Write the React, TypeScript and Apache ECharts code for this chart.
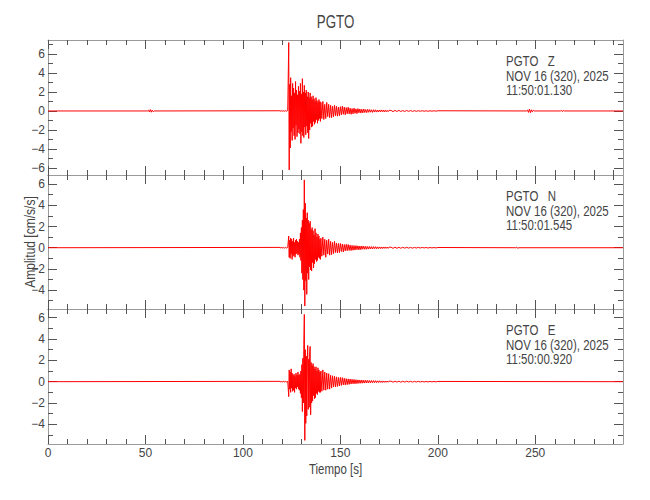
import React, { useEffect, useRef } from "react";
import * as echarts from "echarts";

// ---------- data ----------
const STATION = "PGTO";
const COMPONENTS = ["Z", "N", "E"];
const DATE_LINE = "NOV 16 (320), 2025";
const START_TIMES = ["11:50:01.130", "11:50:01.545", "11:50:00.920"];
const TITLE = "PGTO";
const X_NAME = "Tiempo [s]";
const Y_NAME = "Amplitud [cm/s/s]";

const X_MIN = 0;
const X_MAX = 295;
const X_MAJOR = [0, 50, 100, 150, 200, 250];
const X_MINOR = [
  10, 20, 30, 40, 60, 70, 80, 90, 110, 120, 130, 140, 160, 170, 180, 190,
  210, 220, 230, 240, 260, 270, 280, 290,
];

const Y_RANGES = [
  [-6.74, 7.47],
  [-5.78, 6.86],
  [-5.84, 6.81],
];
const Y_MAJOR = [
  [-6, -4, -2, 0, 2, 4, 6],
  [-4, -2, 0, 2, 4, 6],
  [-4, -2, 0, 2, 4, 6],
];
const Y_MINOR = [
  [-5, -3, -1, 1, 3, 5, 7],
  [-5, -3, -1, 1, 3, 5],
  [-5, -3, -1, 1, 3, 5],
];

// pre-event samples (start 119 s, every 0.5 s)
const PRE_START = 119;
const PRE_STEP = 0.5;
const Z_PRE = [0.02, -0.03, 0.04, -0.03, 0.03, -0.04, 0.05, -0.04, 0.06];
const N_PRE = [0.03, -0.03, 0.04, -0.04, 0.03, -0.05, 0.04, -0.04, 0.05];
const E_PRE = [0.03, -0.04, 0.03, -0.03, 0.05, -0.04, 0.04, -0.05, 0.04];

// strong motion (start 123.5 s, every 0.25 s)
const DENSE_START = 123.5;
const DENSE_STEP = 0.25;
const Z_DENSE = [
  7.2, -6.2, 2.8, -3.9, 3.5, -2.2, 1.6, -3.1, 2.9, -1.8,
  2.4, -2.6, 1.9, -3.0, 3.1, -1.5, 2.2, -2.7, 1.7, -2.3,
  2.6, -1.9, 2.1, -2.4, 2.9, -3.4, 1.8, -2.2, 3.4, -2.6,
  2.0, -2.8, 2.7, -1.7, 1.9, -2.5, 2.2, -1.6, 1.5, -2.3,
  2.0, -2.9, 1.4, -2.0, 1.9, -1.3, 1.5, -1.7, 1.2, -1.6,
  1.6, -1.1, 1.3, -1.4, 1.0, -1.2, 1.4, -0.9, 1.1, -1.3,
  0.9, -1.0, 1.2, -0.8, 1.0, -1.1,
];
const N_DENSE = [
  1.1, -0.9, 0.7, -1.0, 0.9, -0.6, 0.8, -1.1, 0.6, -0.8,
  0.9, -0.7, 0.5, -0.9, 0.7, -0.6, 0.8, -0.5, 0.6, -0.7,
  0.5, -0.6, 0.8, -0.9, 1.4, -1.2, 1.9, -2.4, 2.6, -3.0,
  3.6, -4.0, 6.4, -5.5, 4.2, -3.1, 2.8, -4.4, 3.3, -2.4,
  2.6, -3.0, 2.3, -1.8, 2.5, -2.1, 1.7, -2.2, 1.9, -1.4,
  1.6, -1.9, 1.2, -1.5, 1.8, -1.1, 1.4, -1.3, 1.0, -1.2,
  1.3, -0.9, 1.1, -1.0, 0.8, -1.1,
];
const E_DENSE = [
  -1.4, 1.1, -0.7, 0.9, -1.0, 1.2, -0.6, 0.8, -0.9, 0.6,
  -0.8, 0.7, -1.0, 0.5, -0.6, 0.8, -0.7, 0.6, -0.5, 0.9,
  -0.7, 0.6, -0.8, 0.7, -1.1, 1.0, -1.5, 1.6, -2.8, 2.2,
  -2.0, 3.5, 6.3, -5.5, 3.0, -3.9, 2.4, -3.2, 2.0, 3.4,
  -2.6, 2.1, -2.4, 2.8, 3.3, -3.1, 1.8, -2.0, 1.5, -1.8,
  1.7, -1.3, 1.4, -1.6, 1.2, -1.5, 1.4, -1.1, 1.0, -1.2,
  1.3, -0.9, 1.1, -1.0, 0.9, -1.0,
];

// decaying coda (start 140 s, every 0.5 s)
const MID_START = 140;
const MID_STEP = 0.5;
const Z_MID = [
  0.9, -0.8, 1.0, -0.9, 0.7, -0.8, 0.9, -0.6, 0.7, -0.7,
  0.6, -0.7, 0.5, -0.6, 0.6, -0.5, 0.5, -0.55, 0.4, -0.5,
  0.45, -0.4, 0.5, -0.35, 0.4, -0.4, 0.35, -0.3, 0.4, -0.3,
  0.3, -0.35, 0.25, -0.3, 0.3, -0.25, 0.22, -0.28, 0.25, -0.2,
  0.2, -0.22, 0.18, -0.2, 0.2, -0.16, 0.15, -0.18, 0.17, -0.14,
  0.15, -0.13, 0.12, -0.15, 0.13, -0.11, 0.12, -0.12, 0.1, -0.11,
  0.1, -0.09, 0.11, -0.08, 0.09, -0.1, 0.08, -0.08, 0.07, -0.08,
  0.07,
];
const N_MID = [
  0.9, -0.8, 1.0, -0.7, 0.8, -0.9, 0.7, -0.6, 0.8, -0.7,
  0.6, -0.65, 0.5, -0.55, 0.6, -0.45, 0.45, -0.5, 0.4, -0.45,
  0.4, -0.35, 0.35, -0.4, 0.3, -0.3, 0.32, -0.28, 0.3, -0.25,
  0.25, -0.27, 0.22, -0.24, 0.2, -0.22, 0.2, -0.18, 0.18, -0.2,
  0.16, -0.18, 0.17, -0.14, 0.15, -0.15, 0.13, -0.14, 0.12, -0.13,
  0.12, -0.11, 0.1, -0.12, 0.1, -0.09, 0.1, -0.1, 0.08, -0.09,
  0.08, -0.08, 0.07, -0.08, 0.07, -0.06, 0.07, -0.06, 0.06, -0.06,
  0.06,
];
const E_MID = [
  1.0, -0.9, 1.1, -0.8, 0.9, -0.8, 0.8, -0.7, 0.75, -0.7,
  0.6, -0.6, 0.55, -0.5, 0.5, -0.5, 0.45, -0.45, 0.4, -0.4,
  0.4, -0.35, 0.38, -0.3, 0.32, -0.3, 0.28, -0.28, 0.26, -0.25,
  0.25, -0.22, 0.22, -0.2, 0.21, -0.2, 0.18, -0.18, 0.17, -0.16,
  0.16, -0.15, 0.15, -0.14, 0.14, -0.13, 0.13, -0.12, 0.12, -0.12,
  0.11, -0.1, 0.11, -0.1, 0.1, -0.09, 0.09, -0.09, 0.08, -0.08,
  0.08, -0.07, 0.07, -0.07, 0.07, -0.06, 0.06, -0.06, 0.06, -0.05,
  0.05,
];

// late coda (start 176 s, every 1 s)
const TAIL_START = 176;
const TAIL_STEP = 1;
const Z_TAIL = [
  0.06, -0.07, 0.06, -0.05, 0.06, -0.05, 0.04, -0.05, 0.05, -0.04,
  0.04, -0.04, 0.03, -0.04, 0.03, -0.03, 0.03, -0.03, 0.02, -0.03,
  0.02, -0.02, 0.02, -0.02, 0.02,
];
const N_TAIL = [
  0.05, -0.06, 0.05, -0.05, 0.04, -0.05, 0.04, -0.04, 0.04, -0.04,
  0.03, -0.04, 0.03, -0.03, 0.03, -0.03, 0.03, -0.02, 0.02, -0.03,
  0.02, -0.02, 0.02, -0.02, 0.02,
];
const E_TAIL = [
  0.05, -0.05, 0.05, -0.04, 0.04, -0.05, 0.04, -0.04, 0.04, -0.03,
  0.03, -0.04, 0.03, -0.03, 0.03, -0.03, 0.02, -0.03, 0.02, -0.02,
  0.02, -0.02, 0.02, -0.02, 0.02,
];

// small isolated wiggles [time s, amplitude]
const Z_BLIPS: [number, number][] = [
  [51, 0], [51.5, 0.08], [52, -0.1], [52.5, 0.15], [53, -0.13], [53.5, 0.1], [54, -0.08], [54.5, 0],
  [245.5, 0], [246, 0.1], [246.5, -0.15], [247, 0.2], [247.5, -0.18], [248, 0.12], [248.5, -0.1], [249, 0.08], [249.5, 0],
  [263, 0], [263.5, 0.07], [264, -0.08], [264.5, 0.06], [265, 0],
];
const N_BLIPS: [number, number][] = [
  [240, 0], [240.5, 0.06], [241, -0.07], [241.5, 0],
];
const E_BLIPS: [number, number][] = [];

const PRES = [Z_PRE, N_PRE, E_PRE];
const DENSES = [Z_DENSE, N_DENSE, E_DENSE];
const MIDS = [Z_MID, N_MID, E_MID];
const TAILS = [Z_TAIL, N_TAIL, E_TAIL];
const BLIPS = [Z_BLIPS, N_BLIPS, E_BLIPS];

// ---------- layout / style ----------
const FONT = '"Liberation Sans", Arial, sans-serif';
const PLOT_LEFT = 48;
const PLOT_WIDTH = 575;
const PANEL_TOPS = [40, 175, 309];
const PANEL_HEIGHTS = [135, 134, 135];
const FRAME = "#9a9a9a";
const TICK = "#555";
const TEXT = "#444";
const SQUEEZE = 0.82;

function pushSeg(pts: [number, number][], vals: number[], start: number, step: number) {
  vals.forEach((v, k) => pts.push([start + k * step, v]));
}

function buildTrace(i: number) {
  const pts: [number, number][] = [[X_MIN, 0]];
  BLIPS[i].forEach((p) => pts.push([p[0], p[1]]));
  pushSeg(pts, PRES[i], PRE_START, PRE_STEP);
  pushSeg(pts, DENSES[i], DENSE_START, DENSE_STEP);
  pushSeg(pts, MIDS[i], MID_START, MID_STEP);
  pushSeg(pts, TAILS[i], TAIL_START, TAIL_STEP);
  pts.push([X_MAX, 0]);
  pts.sort((a, b) => a[0] - b[0]);
  return pts;
}

const fmtY = (v: number) => String(v).replace("-", "\u2212");

export default function App() {
  const ref = useRef<HTMLDivElement>(null);
  useEffect(() => {
    if (!ref.current) return;
    const chart = echarts.init(ref.current, undefined, { renderer: "svg" });
    const grid: any[] = [];
    const xAxis: any[] = [];
    const yAxis: any[] = [];
    const series: any[] = [];
    const graphic: any[] = [];

    COMPONENTS.forEach((comp, i) => {
      const rect = { left: PLOT_LEFT, width: PLOT_WIDTH, top: PANEL_TOPS[i], height: PANEL_HEIGHTS[i] };
      ["major", "minor"].forEach((kind) => {
        const g = grid.length;
        grid.push({ ...rect, containLabel: false });
        const major = kind === "major";
        const xt = major ? X_MAJOR : X_MINOR;
        const yt = major ? Y_MAJOR[i] : Y_MINOR[i];
        const tl = major ? 9 : 5;
        ["bottom", "top"].forEach((pos) =>
          xAxis.push({
            type: "value",
            gridIndex: g,
            position: pos,
            min: X_MIN,
            max: X_MAX,
            axisLine: { show: major, onZero: false, lineStyle: { color: FRAME, width: 1 } },
            axisTick: { show: true, inside: true, length: tl, customValues: xt, lineStyle: { color: TICK, width: 1 } },
            axisLabel: {
              show: major && pos === "bottom" && i === COMPONENTS.length - 1,
              customValues: xt,
              margin: 3,
              color: TEXT,
              fontFamily: FONT,
              fontSize: 12,
            },
            splitLine: { show: false },
          })
        );
        ["left", "right"].forEach((pos) =>
          yAxis.push({
            type: "value",
            gridIndex: g,
            position: pos,
            min: Y_RANGES[i][0],
            max: Y_RANGES[i][1],
            axisLine: { show: major, onZero: false, lineStyle: { color: FRAME, width: 1 } },
            axisTick: { show: true, inside: true, length: tl, customValues: yt, lineStyle: { color: TICK, width: 1 } },
            axisLabel: {
              show: major && pos === "left",
              customValues: yt,
              margin: 3,
              color: TEXT,
              fontFamily: FONT,
              fontSize: 12,
              formatter: fmtY,
            },
            splitLine: { show: false },
          })
        );
      });
      series.push({
        type: "line",
        xAxisIndex: 4 * i,
        yAxisIndex: 4 * i,
        data: buildTrace(i),
        showSymbol: false,
        symbol: "none",
        silent: true,
        clip: true,
        lineStyle: { color: "#ff0000", width: 1 },
      });
      const lines = [STATION + "   " + comp, DATE_LINE, START_TIMES[i]];
      lines.forEach((t, k) =>
        graphic.push({
          type: "text",
          x: 506,
          y: PANEL_TOPS[i] + 21.5 + k * 14.5,
          scaleX: SQUEEZE,
          silent: true,
          style: { text: t, fill: TEXT, font: `14px ${FONT}`, align: "left", verticalAlign: "middle" },
        })
      );
    });

    graphic.push({
      type: "text",
      x: PLOT_LEFT + PLOT_WIDTH / 2,
      y: 22,
      scaleX: 0.74,
      style: { text: TITLE, fill: TEXT, font: `18px ${FONT}`, align: "center", verticalAlign: "middle" },
    });
    graphic.push({
      type: "text",
      x: PLOT_LEFT + PLOT_WIDTH / 2,
      y: 469,
      scaleX: SQUEEZE,
      style: { text: X_NAME, fill: TEXT, font: `14px ${FONT}`, align: "center", verticalAlign: "middle" },
    });
    graphic.push({
      type: "text",
      x: 30,
      y: 242,
      rotation: Math.PI / 2,
      scaleX: 0.86,
      style: { text: Y_NAME, fill: TEXT, font: `14px ${FONT}`, align: "center", verticalAlign: "middle" },
    });

    chart.setOption({
      animation: false,
      backgroundColor: "#ffffff",
      grid,
      xAxis,
      yAxis,
      series,
      graphic,
    });
    return () => chart.dispose();
  }, []);
  return (
    <div
      ref={ref}
      style={{ position: "absolute", left: 0, top: 0, width: 650, height: 500, background: "#fff" }}
    />
  );
}
